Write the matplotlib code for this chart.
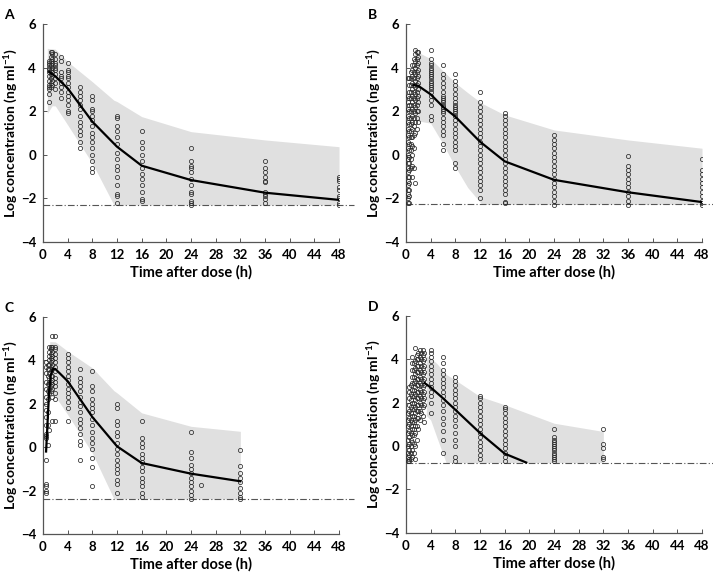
import numpy as np
import matplotlib
matplotlib.use('Agg')
import matplotlib.pyplot as plt

plt.rcParams['font.family'] = ['Lato', 'DejaVu Sans']
plt.rcParams['font.weight'] = 'bold'
plt.rcParams['mathtext.fontset'] = 'custom'
plt.rcParams['mathtext.rm'] = 'Lato:bold'
plt.rcParams['mathtext.bf'] = 'Lato:bold'
plt.rcParams['mathtext.default'] = 'bf'

XTICKS = list(range(0, 49, 4))
YTICKS = [-4, -2, 0, 2, 4, 6]

# ---- Panel A ----
A_TIMES = [1, 1.25, 1.5, 2, 3, 4, 6, 8, 12, 16, 24, 36, 48]
A_CONC = [
    [2.4, 2.8, 3.0, 3.1, 3.2, 3.4, 3.6, 3.8, 3.9, 4.0, 4.1, 4.2, 4.3],
    [3.1, 3.3, 3.5, 3.7, 3.9, 4.1, 4.3, 4.5, 4.7],
    [3.2, 3.4, 3.6, 3.8, 4.0, 4.2, 4.4, 4.6, 4.7],
    [3.0, 3.3, 3.5, 3.7, 3.9, 4.0, 4.1, 4.2, 4.4, 4.6],
    [2.6, 2.9, 3.1, 3.3, 3.5, 3.6, 3.8, 4.3, 4.5],
    [1.9, 2.0, 2.3, 2.5, 2.7, 2.9, 3.1, 3.3, 3.5, 3.6, 3.8, 3.9, 4.2],
    [0.3, 0.6, 0.9, 1.1, 1.3, 1.5, 1.8, 2.1, 2.3, 2.5, 2.7, 2.9, 3.1],
    [-0.8, -0.6, -0.3, 0.0, 0.3, 0.6, 0.8, 1.0, 1.3, 1.6, 1.8, 2.0, 2.1, 2.5, 2.7],
    [-2.2, -1.9, -1.8, -1.4, -1.0, -0.7, -0.5, -0.2, 0.1, 0.5, 0.8, 1.1, 1.3, 1.7, 1.8],
    [-2.1, -2.05, -1.7, -1.4, -1.1, -0.9, -0.6, -0.3, 0.0, 0.3, 0.6, 1.1],
    [-2.3, -2.2, -2.1, -1.8, -1.7, -1.4, -1.1, -0.8, -0.6, -0.5, -0.3, 0.3],
    [-2.2, -2.05, -1.9, -1.8, -1.7, -1.25, -1.2, -1.0, -0.8, -0.6, -0.3],
    [-2.3, -2.2, -2.0, -1.9, -1.6, -1.5, -1.2, -1.1, -1.0],
]
A_MED_T = [1, 2, 4, 8, 12, 16, 24, 36, 48]
A_MED = [3.8, 3.6, 3.05, 1.52, 0.37, -0.5, -1.16, -1.74, -2.07]
A_BAND_T = [0.7, 1.5, 2, 4, 8, 11.5, 12, 16, 24, 36, 48]
A_BAND_HI = [4.88, 4.86, 4.84, 4.27, 3.35, 2.5, 2.44, 1.75, 1.06, 0.68, 0.37]
A_BAND_LO = [1.9, 2.25, 2.24, 1.37, -0.39, -2.3, -2.3, -2.3, -2.3, -2.3, -2.3]
A_LLOQ = -2.3

# ---- Panel B ----
B_TIMES = [0.25, 0.5, 0.75, 1.0, 1.25, 1.5, 1.75, 2.0, 4, 6, 8, 12, 16, 24, 36, 48]
B_CONC = [
    [-2.2, -2.0, -1.8, -1.6, -1.4, -1.2, -1.0, -0.8, -0.6, -0.4, -0.2, 0.0, 0.3, 0.6, 0.9, 1.2, 1.5, 1.8, 2.1, 2.4, 2.7, 3.5],
    [-2.2, -1.9, -1.6, -1.3, -1.0, -0.7, -0.4, -0.1, 0.2, 0.5, 0.8, 1.1, 1.4, 1.7, 2.0, 2.3, 2.6, 2.9, 3.2, 3.5],
    [-0.6, -0.2, 0.2, 0.5, 0.8, 1.1, 1.4, 1.7, 2.0, 2.3, 2.6, 2.9, 3.2, 3.5, 3.8],
    [-1.0, -0.5, 0.0, 0.4, 0.8, 1.2, 1.5, 1.8, 2.1, 2.4, 2.7, 3.0, 3.3, 3.6, 3.9, 4.1],
    [-0.6, 0.3, 0.9, 1.3, 1.7, 2.0, 2.3, 2.6, 2.9, 3.2, 3.5, 3.8, 4.1, 4.4],
    [-1.3, 1.0, 1.5, 1.9, 2.2, 2.5, 2.8, 3.1, 3.4, 3.7, 4.0, 4.3, 4.6, 4.8],
    [1.2, 1.7, 2.0, 2.3, 2.6, 2.9, 3.2, 3.5, 3.8, 4.1, 4.4, 4.7],
    [1.5, 2.0, 2.4, 2.7, 3.0, 3.3, 3.6, 3.9, 4.2, 4.5, 4.7],
    [1.6, 1.8, 2.3, 2.5, 2.7, 2.9, 3.0, 3.1, 3.2, 3.3, 3.4, 3.5, 3.6, 3.7, 3.8, 3.9, 4.0, 4.1, 4.2, 4.4, 4.8],
    [0.2, 0.5, 0.9, 1.1, 1.3, 1.5, 1.7, 1.9, 2.0, 2.1, 2.2, 2.3, 2.4, 2.5, 2.6, 2.7, 2.9, 3.1, 3.3, 3.5, 3.7, 4.1],
    [-0.6, -0.4, 0.2, 0.4, 0.6, 0.8, 1.0, 1.2, 1.4, 1.6, 1.8, 1.9, 2.0, 2.1, 2.2, 2.3, 2.4, 2.6, 2.8, 3.0, 3.2, 3.4, 3.7],
    [-2.0, -1.6, -1.4, -1.2, -1.0, -0.8, -0.6, -0.4, -0.2, 0.0, 0.2, 0.4, 0.6, 0.8, 1.0, 1.2, 1.4, 1.6, 1.8, 2.0, 2.2, 2.4, 2.9],
    [-2.2, -2.15, -1.8, -1.6, -1.4, -1.2, -1.0, -0.8, -0.6, -0.4, -0.2, 0.0, 0.2, 0.4, 0.6, 0.8, 1.0, 1.2, 1.4, 1.6, 1.8, 1.9],
    [-2.3, -2.1, -1.9, -1.7, -1.5, -1.3, -1.1, -0.9, -0.7, -0.5, -0.3, -0.1, 0.1, 0.3, 0.5, 0.7, 0.9],
    [-2.3, -2.1, -1.9, -1.7, -1.5, -1.3, -1.1, -0.9, -0.7, -0.5, -0.05],
    [-2.3, -2.2, -2.1, -1.9, -1.7, -1.5, -1.3, -1.1, -0.9, -0.7, -0.2],
]
B_MED_T = [1.25, 2, 4, 6, 8, 12, 16, 24, 36, 48]
B_MED = [3.2, 3.16, 2.77, 2.2, 1.75, 0.6, -0.3, -1.15, -1.72, -2.17]
B_BAND_T = [1.4, 2, 4, 6, 8, 10, 12.3, 16, 24, 36, 48]
B_BAND_HI = [4.9, 4.7, 4.4, 3.85, 3.3, 2.85, 2.36, 1.83, 1.14, 0.68, 0.3]
B_BAND_LO = [1.6, 1.55, 1.45, 0.5, -0.55, -1.5, -2.27, -2.27, -2.27, -2.27, -2.27]
B_LLOQ = -2.27

# ---- Panel C ----
C_TIMES = [0.5, 0.75, 1, 1.25, 1.5, 2, 4, 6, 8, 12, 16, 24, 25.7, 32]
C_CONC = [
    [-2.1, -2.0, -1.8, -1.7, -0.6, 0.4, 0.5, 0.6, 1.0, 1.4, 1.7, 2.0, 2.3, 2.7, 3.0, 3.4, 3.7, 3.9],
    [0.1, 1.0, 1.6, 2.2, 2.6, 2.9, 3.3, 3.6, 3.8],
    [0.8, 2.5, 2.7, 2.9, 3.0, 3.2, 3.4, 3.6, 3.8, 4.0, 4.2, 4.4, 4.6],
    [2.6, 2.8, 3.0, 3.3, 3.5, 3.7, 3.9, 4.1, 4.3, 4.5, 4.6],
    [1.2, 2.3, 2.7, 2.9, 3.1, 3.3, 3.6, 3.8, 4.0, 4.2, 4.4, 4.6, 5.1],
    [1.2, 2.2, 2.5, 2.8, 3.0, 3.2, 3.5, 3.7, 3.9, 4.1, 4.3, 4.5, 4.6, 5.1],
    [1.2, 1.8, 2.1, 2.3, 2.5, 2.7, 2.9, 3.1, 3.3, 3.5, 3.7, 3.9, 4.1, 4.3],
    [-0.6, 0.1, 0.3, 0.6, 0.9, 1.1, 1.3, 1.6, 1.9, 2.1, 2.3, 2.6, 2.8, 3.0, 3.2, 3.6],
    [-1.8, -0.9, -0.5, -0.1, 0.2, 0.4, 0.7, 1.0, 1.3, 1.6, 1.8, 2.0, 2.2, 2.6, 2.8, 3.5],
    [-2.1, -1.7, -1.5, -1.2, -1.0, -0.8, -0.6, -0.3, -0.1, 0.2, 0.5, 0.7, 1.0, 1.2, 1.8, 2.0],
    [-2.3, -2.1, -1.8, -1.6, -1.4, -1.1, -0.9, -0.7, -0.5, -0.3, 0.0, 0.2, 0.4, 1.2],
    [-2.4, -2.2, -2.0, -1.8, -1.6, -1.4, -1.2, -1.0, -0.8, -0.5, -0.2, 0.7],
    [-1.75],
    [-2.4, -2.3, -2.1, -1.9, -1.6, -1.4, -1.2, -0.85, -0.15],
]
C_MED_T = [0.5, 0.75, 1, 1.25, 1.6, 2, 4, 8, 12, 16, 24, 32]
C_MED = [-0.2, 1.2, 2.6, 3.3, 3.6, 3.6, 3.04, 1.39, 0.04, -0.73, -1.22, -1.57]
C_BAND_T = [1.1, 2, 4, 8, 11.5, 12, 16, 24, 32]
C_BAND_HI = [4.86, 4.85, 4.42, 3.65, 2.6, 2.5, 1.58, 0.96, 0.73]
C_BAND_LO = [2.33, 2.34, 1.5, -0.27, -2.38, -2.38, -2.38, -2.38, -2.38]
C_LLOQ = -2.38

# ---- Panel D ----
D_TIMES = [0.25, 0.5, 0.75, 1.0, 1.25, 1.5, 1.75, 2.0, 2.25, 2.5, 2.75, 3.0, 4, 6, 8, 12, 16, 24, 32]
D_CONC = [
    [-0.7, -0.5, -0.3, 0.0, 0.3, 0.6, 0.9, 1.2, 1.5],
    [-0.7, -0.6, -0.4, -0.2, 0.1, 0.4, 0.7, 1.0, 1.3, 1.6, 1.9, 2.2, 2.5, 2.7],
    [-0.6, -0.3, 0.0, 0.3, 0.6, 0.9, 1.2, 1.5, 1.8, 2.1, 2.4, 2.8],
    [-0.5, -0.2, 0.2, 0.5, 0.8, 1.1, 1.4, 1.7, 2.0, 2.3, 2.6, 2.9, 3.2, 3.5, 3.8, 4.1],
    [-0.3, 0.1, 0.5, 0.8, 1.1, 1.4, 1.7, 2.0, 2.3, 2.6, 2.9, 3.2, 3.5, 3.8],
    [-0.6, 0.0, 0.6, 0.9, 1.2, 1.5, 1.8, 2.1, 2.4, 2.7, 3.0, 3.3, 3.6, 3.9, 4.5],
    [0.3, 0.9, 1.3, 1.6, 1.9, 2.2, 2.5, 2.8, 3.1, 3.4, 3.7, 4.0, 4.2],
    [0.8, 1.3, 1.6, 1.9, 2.2, 2.5, 2.8, 3.1, 3.4, 3.7, 4.0, 4.3],
    [1.2, 1.6, 2.0, 2.3, 2.6, 2.9, 3.2, 3.5, 3.8, 4.1, 4.4],
    [1.5, 1.9, 2.2, 2.5, 2.8, 3.1, 3.4, 3.7, 4.0, 4.3],
    [1.4, 1.8, 2.1, 2.4, 2.7, 3.0, 3.3, 3.6, 3.9, 4.2, 4.4],
    [1.1, 1.9, 2.2, 2.5, 2.8, 3.1, 3.4, 3.7, 4.0, 4.3],
    [1.5, 2.0, 2.3, 2.5, 2.7, 2.9, 3.1, 3.3, 3.5, 3.7, 3.9, 4.1, 4.3, 4.4],
    [-0.3, 0.3, 0.7, 1.0, 1.3, 1.6, 1.9, 2.1, 2.3, 2.5, 2.7, 2.9, 3.1, 3.3, 3.5, 3.8, 4.1],
    [-0.7, -0.5, 0.0, 0.3, 0.6, 0.9, 1.2, 1.4, 1.6, 1.8, 2.0, 2.2, 2.4, 2.6, 2.8, 3.0, 3.2],
    [-0.6, -0.4, -0.2, 0.0, 0.2, 0.4, 0.6, 0.8, 1.0, 1.2, 1.4, 1.6, 1.8, 2.0, 2.2, 2.3],
    [-0.7, -0.5, -0.3, -0.1, 0.1, 0.3, 0.5, 0.7, 0.9, 1.1, 1.3, 1.5, 1.7, 1.8],
    [-0.7, -0.6, -0.5, -0.4, -0.3, -0.2, -0.1, 0.0, 0.1, 0.2, 0.3, 0.4, 0.8],
    [-0.6, -0.5, -0.1, 0.1, 0.8],
]
D_MED_T = [3, 4, 6, 8, 12, 16, 19.5]
D_MED = [2.9, 2.7, 2.2, 1.67, 0.6, -0.35, -0.76]
D_BAND_T = [3.3, 4, 5, 6.5, 8, 12, 16, 24, 32]
D_BAND_HI = [4.15, 4.05, 3.8, 3.3, 3.04, 2.28, 1.9, 1.05, 0.67]
D_BAND_LO = [1.4, 1.2, 0.4, -0.76, -0.76, -0.76, -0.76, -0.76, -0.76]
D_LLOQ = -0.76


def draw_panel(ax, letter, times, conc, med_t, med, band_t, band_lo, band_hi, lloq):
    ax.fill_between(band_t, band_lo, band_hi, color='#e0e0e0', lw=0, zorder=1)
    ax.axhline(lloq, xmin=0, xmax=1.05, color='#555555', lw=0.8,
               ls=(0, (6, 2, 1, 2)), clip_on=False, zorder=2)
    xs = np.concatenate([[t] * len(c) for t, c in zip(times, conc)])
    ys = np.concatenate(conc)
    ax.plot(xs, ys, 'o', ms=3, mfc='none', mec='#2a2a2a', mew=0.55, zorder=3)
    ax.plot(med_t, med, color='black', lw=1.6, zorder=4)

    ax.set_xlim(0, 48)
    ax.set_ylim(-4, 6)
    ax.set_xticks(XTICKS)
    ax.set_yticks(YTICKS)
    for s in ['top', 'right']:
        ax.spines[s].set_visible(False)
    for s in ['left', 'bottom']:
        ax.spines[s].set_color('#555555')
        ax.spines[s].set_linewidth(0.9)
    ax.tick_params(direction='in', length=3, width=0.7, color='#555555',
                   labelsize=9.5, pad=5)
    ax.set_xlabel('Time after dose (h)', fontsize=10.5, fontweight='bold', labelpad=3)
    ax.set_ylabel('Log concentration (ng ml$^{-1}$)', fontsize=10, fontweight='bold')
    ax.yaxis.set_label_coords(-0.078, 0.5)
    ax.text(-0.13, 1.07, letter, transform=ax.transAxes, fontsize=10,
            fontweight='bold', va='top', ha='left')


fig = plt.figure(figsize=(7.13, 5.73), dpi=100)
ax_a = fig.add_axes([0.0603, 0.5777, 0.4152, 0.3805])
ax_b = fig.add_axes([0.5694, 0.5777, 0.4152, 0.3805])
ax_c = fig.add_axes([0.0603, 0.068, 0.4152, 0.379])
ax_d = fig.add_axes([0.5694, 0.070, 0.4152, 0.379])

draw_panel(ax_a, 'A', A_TIMES, A_CONC, A_MED_T, A_MED, A_BAND_T, A_BAND_LO, A_BAND_HI, A_LLOQ)
draw_panel(ax_b, 'B', B_TIMES, B_CONC, B_MED_T, B_MED, B_BAND_T, B_BAND_LO, B_BAND_HI, B_LLOQ)
draw_panel(ax_c, 'C', C_TIMES, C_CONC, C_MED_T, C_MED, C_BAND_T, C_BAND_LO, C_BAND_HI, C_LLOQ)
draw_panel(ax_d, 'D', D_TIMES, D_CONC, D_MED_T, D_MED, D_BAND_T, D_BAND_LO, D_BAND_HI, D_LLOQ)

fig.savefig('out.png', dpi=100)
